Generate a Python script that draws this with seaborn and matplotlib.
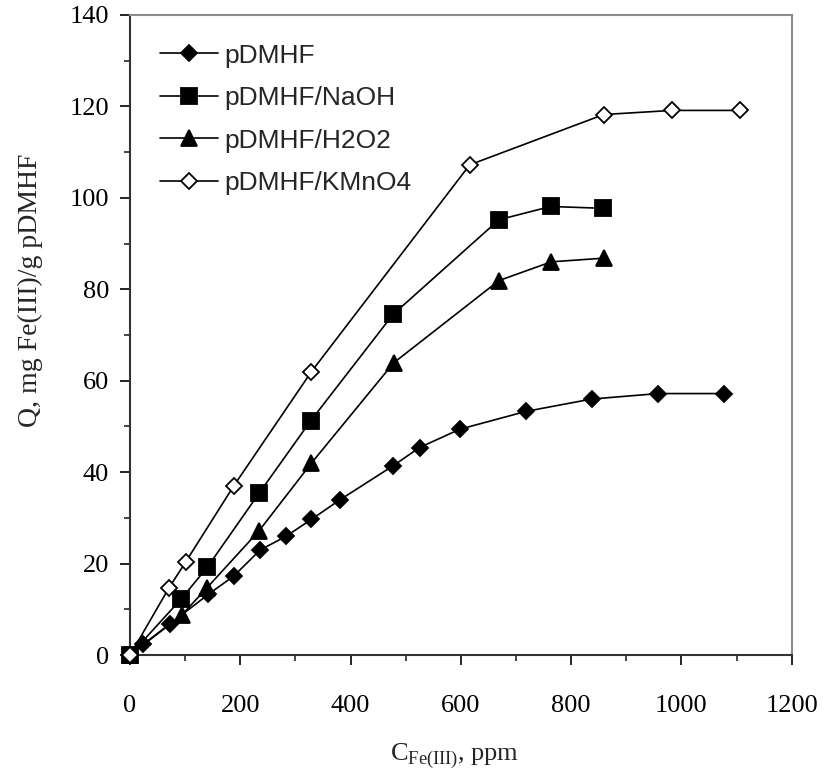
import numpy as np
import pandas as pd
import seaborn as sns
import matplotlib.pyplot as plt
from matplotlib.ticker import MultipleLocator

# Données
x_pdmhf = [0, 24, 72, 142, 188, 236, 283, 329, 381, 477, 525, 598, 718, 837, 958, 1077]
q_pdmhf = [0, 2.4, 6.8, 13.3, 17.3, 23, 26, 29.7, 34, 41.4, 45.4, 49.4, 53.3, 56, 57.2, 57.2]

x_naoh = [0, 92, 140, 234, 328, 477, 669, 763, 857]
q_naoh = [0, 12.2, 19.2, 35.4, 51.3, 74.5, 95.2, 98.1, 97.7]

x_h2o2 = [0, 94, 140, 234, 329, 478, 669, 764, 859]
q_h2o2 = [0, 8.8, 14.8, 27.2, 42, 63.9, 81.9, 86, 86.8]

x_kmno4 = [0, 71, 101, 188, 329, 616, 859, 983, 1106]
q_kmno4 = [0, 14.8, 20.4, 37, 62, 107.2, 118.2, 119.1, 119.1]

labels = ['pDMHF', 'pDMHF/NaOH', 'pDMHF/H2O2', 'pDMHF/KMnO4']

sns.set_style('ticks')
plt.rcParams['font.family'] = ['Liberation Serif', 'DejaVu Serif']
plt.rcParams['mathtext.fontset'] = 'custom'
plt.rcParams['mathtext.rm'] = 'Liberation Serif'

fig = plt.figure(figsize=(8.23, 7.8), dpi=100)
ax = fig.add_axes([0.158, 0.160, 0.804, 0.821])

series = [
    (x_pdmhf, q_pdmhf, labels[0], dict(marker='D', markersize=8.5, markerfacecolor='black')),
    (x_naoh, q_naoh, labels[1], dict(marker='s', markersize=11, markerfacecolor='black')),
    (x_h2o2, q_h2o2, labels[2], dict(marker='^', markersize=12, markerfacecolor='black')),
    (x_kmno4, q_kmno4, labels[3], dict(marker='D', markersize=8.5, markerfacecolor='white')),
]

for xs, qs, lab, mk in series:
    df = pd.DataFrame({'C': xs, 'Q': qs})
    sns.lineplot(data=df, x='C', y='Q', ax=ax, color='black', linewidth=1.2,
                 markeredgecolor='black', markeredgewidth=1.3, clip_on=False,
                 label=lab, zorder=3, **mk)

ax.set_xlim(0, 1200)
ax.set_ylim(0, 140)
ax.xaxis.set_major_locator(MultipleLocator(200))
ax.xaxis.set_minor_locator(MultipleLocator(100))
ax.yaxis.set_major_locator(MultipleLocator(20))
ax.yaxis.set_minor_locator(MultipleLocator(10))
ax.tick_params(axis='both', which='major', direction='out', length=7, width=1.2,
               labelsize=19, colors='black')
ax.tick_params(axis='x', which='major', pad=22)
ax.tick_params(axis='y', which='major', pad=8)
ax.tick_params(axis='both', which='minor', direction='out', length=4.5, width=1.2)

for side in ['left', 'bottom']:
    ax.spines[side].set_color('#333333')
    ax.spines[side].set_linewidth(1.5)
for side in ['top', 'right']:
    ax.spines[side].set_visible(True)
    ax.spines[side].set_color('#8c8c8c')
    ax.spines[side].set_linewidth(1.5)

ax.set_xlabel(r'C$_{\mathregular{Fe(III)}}$, ppm', fontsize=19)
ax.set_ylabel('Q, mg Fe(III)/g pDMHF', fontsize=20)
ax.xaxis.set_label_coords(0.49, -0.135)
ax.yaxis.set_label_coords(-0.132, 0.57)

leg = ax.legend(loc='upper left', bbox_to_anchor=(0.045, 0.955), frameon=False,
                prop={'family': 'Liberation Sans', 'size': 19},
                handlelength=2.2, handletextpad=0.25, labelspacing=0.7,
                borderpad=0, borderaxespad=0)

fig.savefig('out.png', dpi=100)
